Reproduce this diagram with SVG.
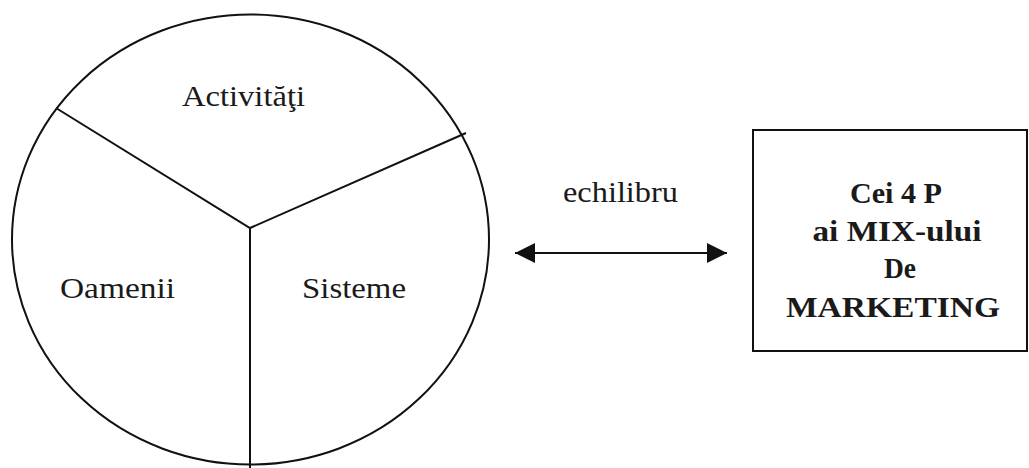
<svg xmlns="http://www.w3.org/2000/svg" width="1029" height="468" viewBox="0 0 1029 468">
<style>
.ln{fill:none;stroke:#111;stroke-width:2}
.t{font-family:"Liberation Serif","Times New Roman",serif;font-size:30px;fill:#1a1a1a}
.b{font-family:"Liberation Serif","Times New Roman",serif;font-size:30px;font-weight:bold;fill:#1a1a1a;text-anchor:middle}
</style>
<defs>
<marker id="ah" viewBox="0 0 20 20" refX="20" refY="10" markerWidth="20" markerHeight="20" markerUnits="userSpaceOnUse" orient="auto-start-reverse">
<path d="M0,0 L20,10 L0,20 Z" fill="#111"/>
</marker>
</defs>
<rect width="1029" height="468" fill="#fff"/>
<g id="circle">
<ellipse class="ln" cx="250.5" cy="239.5" rx="238.5" ry="225"/>
<path class="ln" d="M56,108 L250,228 L466,133 M250,228 L250,468"/>
<text class="t" x="182" y="106" textLength="123" lengthAdjust="spacingAndGlyphs">Activităţi</text>
<text class="t" x="60" y="298" textLength="115" lengthAdjust="spacingAndGlyphs">Oamenii</text>
<text class="t" x="302" y="298" textLength="104" lengthAdjust="spacingAndGlyphs">Sisteme</text>
</g>
<g id="box">
<rect class="ln" x="753" y="130" width="274" height="221"/>
<text class="b" x="896" y="203" textLength="92" lengthAdjust="spacingAndGlyphs">Cei 4 P</text>
<text class="b" x="897" y="241" textLength="169" lengthAdjust="spacingAndGlyphs">ai MIX-ului</text>
<text class="b" x="900" y="278" textLength="32" lengthAdjust="spacingAndGlyphs">De</text>
<text class="b" x="893" y="317" textLength="214" lengthAdjust="spacingAndGlyphs">MARKETING</text>
</g>
<g id="connectors">
<line class="ln" x1="515" y1="253" x2="727" y2="253" marker-start="url(#ah)" marker-end="url(#ah)"/>
<text class="t" x="563" y="202" textLength="115" lengthAdjust="spacingAndGlyphs">echilibru</text>
</g>
</svg>
